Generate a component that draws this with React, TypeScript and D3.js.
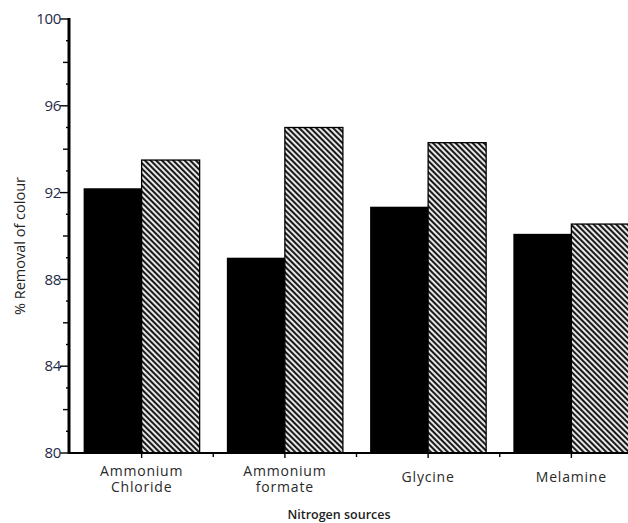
import * as d3 from "d3";

const categories = ["Ammonium Chloride", "Ammonium formate", "Glycine", "Melamine"];
const categoryLines = [["Ammonium", "Chloride"], ["Ammonium", "formate"], ["Glycine"], ["Melamine"]];
const solidValues = [92.2, 89.0, 91.35, 90.1];
const hatchedValues = [93.5, 95.0, 94.3, 90.55];
const yMajorTicks = [80, 84, 88, 92, 96, 100];

const W = 628;
const H = 523;
const left = 70;
const top = 19;
const bottom = 453;

export default function App() {
  const x = d3
    .scaleBand<string>()
    .domain(categories)
    .range([left, left + 4 * 143.25])
    .paddingInner(0.19)
    .paddingOuter(0.095);
  const sub = d3.scaleBand<string>().domain(["solid", "hatched"]).range([0, x.bandwidth()]);
  const y = d3.scaleLinear().domain([80, 100]).range([bottom, top]);

  const minorTicks = d3.range(80, 101, 1);
  const bounds = d3.range(1, 4).map((i) => left + i * x.step());
  const font = "'Open Sans', 'DejaVu Sans', sans-serif";

  return (
    <svg width={W} height={H} style={{ position: "absolute", left: 0, top: 0, background: "#fff" }}>
      <defs>
        <pattern id="hatch" width={4} height={4} patternUnits="userSpaceOnUse" patternTransform="rotate(-45)">
          <rect width={4} height={4} fill="#f2f2f2" />
          <line x1={1} y1={0} x2={1} y2={4} stroke="#1a1a1a" strokeWidth={2.2} />
        </pattern>
      </defs>

      {categories.map((c, i) => (
        <g key={c}>
          <rect
            x={(x(c) ?? 0) + (sub("solid") ?? 0)}
            y={y(solidValues[i])}
            width={sub.bandwidth()}
            height={bottom - y(solidValues[i])}
            fill="#000"
          />
          <rect
            x={(x(c) ?? 0) + (sub("hatched") ?? 0)}
            y={y(hatchedValues[i])}
            width={sub.bandwidth()}
            height={bottom - y(hatchedValues[i])}
            fill="url(#hatch)"
            stroke="#000"
            strokeWidth={1.3}
          />
        </g>
      ))}

      {/* y axis */}
      <line x1={left - 1} x2={left - 1} y1={top - 1} y2={bottom + 1} stroke="#000" strokeWidth={3} />
      {minorTicks.map((t) => {
        const len = t % 4 === 0 ? 9 : t % 2 === 0 ? 6 : 3;
        return (
          <line key={t} x1={left - 1 - len} x2={left - 1} y1={y(t)} y2={y(t)} stroke="#000" strokeWidth={1.4} />
        );
      })}
      {yMajorTicks.map((t) => (
        <text
          key={t}
          x={left - 9}
          y={y(t)}
          dy="0.35em"
          textAnchor="end"
          fontFamily={font}
          fontSize={15}
          fontWeight={500}
          fill="#1f2b48"
          letterSpacing={-0.3}
        >
          {t}
        </text>
      ))}

      {/* x axis */}
      <line x1={left - 1} x2={W} y1={bottom} y2={bottom} stroke="#000" strokeWidth={2} />
      {categories.map((c) => (
        <line
          key={c}
          x1={(x(c) ?? 0) + x.bandwidth() / 2}
          x2={(x(c) ?? 0) + x.bandwidth() / 2}
          y1={bottom}
          y2={bottom + 5}
          stroke="#000"
          strokeWidth={1.4}
        />
      ))}
      {bounds.map((b) => (
        <line key={b} x1={b} x2={b} y1={bottom} y2={bottom + 4} stroke="#000" strokeWidth={1.4} />
      ))}
      {categories.map((c, i) => {
        const cx = (x(c) ?? 0) + x.bandwidth() / 2;
        const y0 = categoryLines[i].length > 1 ? 471 : 477;
        return (
          <text
            key={c}
            textAnchor="middle"
            fontFamily={font}
            fontSize={14}
            fontWeight={500}
            letterSpacing={0.8}
            fill="#2a2a2a"
          >
            {categoryLines[i].map((l, j) => (
              <tspan key={j} x={cx} y={y0 + j * 16} dy="0.35em">
                {l}
              </tspan>
            ))}
          </text>
        );
      })}

      <text x={339} y={515} dy="0.35em" textAnchor="middle" fontFamily={font} fontSize={12.5} fontWeight={600} fill="#222">
        Nitrogen sources
      </text>
      <text
        transform={`translate(20,246) rotate(-90)`}
        dy="0.35em"
        textAnchor="middle"
        fontFamily={font}
        fontSize={14.5}
        fill="#222"
      >
        % Removal of colour
      </text>
    </svg>
  );
}
